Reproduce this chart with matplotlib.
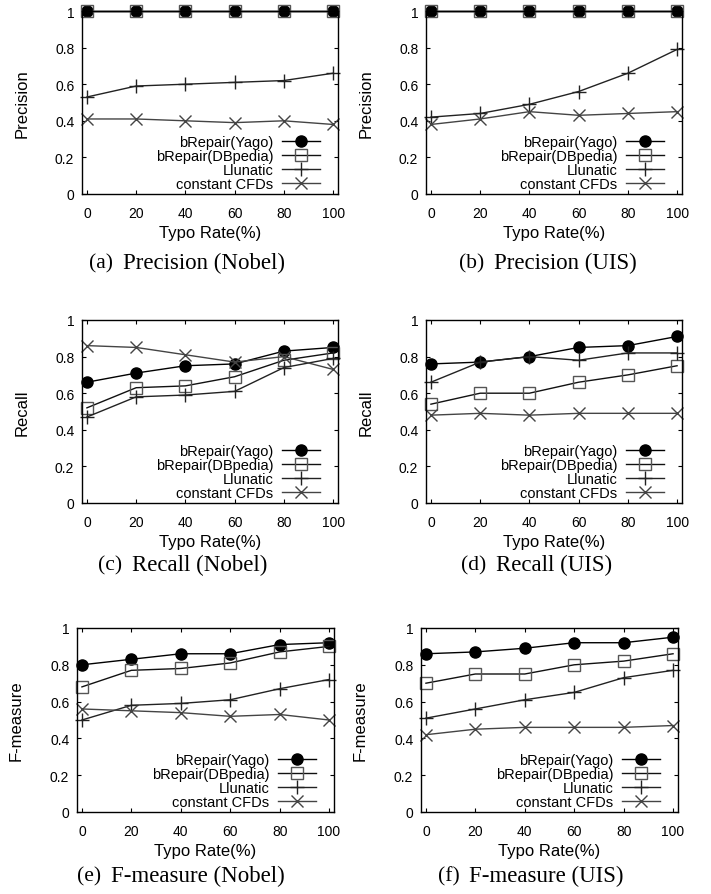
#!/usr/bin/env python

#---- import necessary packages ----#
import matplotlib
matplotlib.use('Agg')
import matplotlib.pyplot as plt
from matplotlib import rcParams
from matplotlib.offsetbox import TextArea, HPacker, AnnotationBbox

#---- plotting parameters ----#
params = {'font.family': 'Liberation Sans',
          'font.size': 10,
          'axes.labelsize': 12,
          'xtick.labelsize': 10,
          'ytick.labelsize': 10,
          'axes.linewidth': 1.0,
          'xtick.direction': 'in',
          'ytick.direction': 'in',
          'xtick.top': True,
          'ytick.right': True,
          'xtick.major.size': 3,
          'ytick.major.size': 3,
          'xtick.major.pad': 8.5,
          'ytick.major.pad': 5.5,
          }
rcParams.update(params)

#---- data ----#
typo_rate = [0, 20, 40, 60, 80, 100]
series_names = ['bRepair(Yago)', 'bRepair(DBpedia)', 'Llunatic', 'constant CFDs']

# (a) Precision (Nobel)
prec_nobel_yago = [1, 1, 1, 1, 1, 1]
prec_nobel_dbpedia = [1, 1, 1, 1, 1, 1]
prec_nobel_llunatic = [0.53, 0.59, 0.60, 0.61, 0.62, 0.66]
prec_nobel_cfd = [0.41, 0.41, 0.40, 0.39, 0.40, 0.38]

# (b) Precision (UIS)
prec_uis_yago = [1, 1, 1, 1, 1, 1]
prec_uis_dbpedia = [1, 1, 1, 1, 1, 1]
prec_uis_llunatic = [0.42, 0.44, 0.49, 0.56, 0.66, 0.79]
prec_uis_cfd = [0.38, 0.41, 0.45, 0.43, 0.44, 0.45]

# (c) Recall (Nobel)
rec_nobel_yago = [0.66, 0.71, 0.75, 0.76, 0.83, 0.85]
rec_nobel_dbpedia = [0.52, 0.63, 0.64, 0.69, 0.78, 0.82]
rec_nobel_llunatic = [0.47, 0.58, 0.59, 0.61, 0.74, 0.79]
rec_nobel_cfd = [0.86, 0.85, 0.81, 0.77, 0.80, 0.73]

# (d) Recall (UIS)
rec_uis_yago = [0.76, 0.77, 0.80, 0.85, 0.86, 0.91]
rec_uis_dbpedia = [0.54, 0.60, 0.60, 0.66, 0.70, 0.75]
rec_uis_llunatic = [0.66, 0.77, 0.80, 0.78, 0.82, 0.82]
rec_uis_cfd = [0.48, 0.49, 0.48, 0.49, 0.49, 0.49]

# (e) F-measure (Nobel)
f_nobel_yago = [0.80, 0.83, 0.86, 0.86, 0.91, 0.92]
f_nobel_dbpedia = [0.68, 0.77, 0.78, 0.81, 0.87, 0.90]
f_nobel_llunatic = [0.50, 0.58, 0.59, 0.61, 0.67, 0.72]
f_nobel_cfd = [0.56, 0.55, 0.54, 0.52, 0.53, 0.50]

# (f) F-measure (UIS)
f_uis_yago = [0.86, 0.87, 0.89, 0.92, 0.92, 0.95]
f_uis_dbpedia = [0.70, 0.75, 0.75, 0.80, 0.82, 0.86]
f_uis_llunatic = [0.51, 0.56, 0.61, 0.65, 0.73, 0.77]
f_uis_cfd = [0.42, 0.45, 0.46, 0.46, 0.46, 0.47]

#---- line styles per series (gnuplot look) ----#
styles = [dict(color='black', marker='o', mfc='black', mec='black', ms=8),
          dict(color='#111111', marker='s', mfc='none', mec='#555555', ms=8, mew=1.0),
          dict(color='#222222', marker='+', ms=10, mew=1.0),
          dict(color='#444444', marker='x', ms=9, mew=1.0)]

#---- panel layout (pixel boxes: left, top, right, bottom) ----#
W, H = 711, 895
panels = [
    ('Precision', '(a)', 'Precision (Nobel)', (82, 12, 338, 195), (187, 263),
     [prec_nobel_yago, prec_nobel_dbpedia, prec_nobel_llunatic, prec_nobel_cfd]),
    ('Precision', '(b)', 'Precision (UIS)', (426, 12, 682, 195), (548, 263),
     [prec_uis_yago, prec_uis_dbpedia, prec_uis_llunatic, prec_uis_cfd]),
    ('Recall', '(c)', 'Recall (Nobel)', (82, 321, 338, 504), (183, 565),
     [rec_nobel_yago, rec_nobel_dbpedia, rec_nobel_llunatic, rec_nobel_cfd]),
    ('Recall', '(d)', 'Recall (UIS)', (426, 321, 682, 504), (537, 565),
     [rec_uis_yago, rec_uis_dbpedia, rec_uis_llunatic, rec_uis_cfd]),
    ('F-measure', '(e)', 'F-measure (Nobel)', (77, 629, 334, 813), (181, 876),
     [f_nobel_yago, f_nobel_dbpedia, f_nobel_llunatic, f_nobel_cfd]),
    ('F-measure', '(f)', 'F-measure (UIS)', (421, 629, 678, 813), (531, 876),
     [f_uis_yago, f_uis_dbpedia, f_uis_llunatic, f_uis_cfd]),
]

fig = plt.figure(figsize=(W / 100.0, H / 100.0), dpi=100)

for ylab, tag, caption, box, cap_xy, data in panels:
    l, t, r, b = box
    ax = fig.add_axes([l / W, 1 - b / H, (r - l) / W, (b - t) / H])
    for name, vals, st in zip(series_names, data, styles):
        ax.plot(typo_rate, vals, lw=1.0, label=name, clip_on=False, **st)

    ax.set_xlim(-2, 102)
    ax.set_ylim(0, 1)
    ax.set_xticks(typo_rate)
    ax.set_yticks([0, 0.2, 0.4, 0.6, 0.8, 1])
    ax.set_yticklabels(['0', '0.2', '0.4', '0.6', '0.8', '1'])

    ax.set_xlabel('Typo Rate(%)', va='center')
    ax.xaxis.set_label_coords(0.5, -0.208)
    ax.set_ylabel(ylab, va='center')
    ax.yaxis.set_label_coords(-0.235, 0.5)

    leg = ax.legend(loc='lower right', bbox_to_anchor=(0.93, 0.016), markerfirst=False,
                    frameon=False, fontsize=10.5, handlelength=2.6, handletextpad=0.6,
                    labelspacing=0.0, borderpad=0, borderaxespad=0, numpoints=1)

    #---- sub-figure caption: tag + title, in serif ----#
    tag_box = TextArea(tag, textprops=dict(fontsize=15.5, family='Liberation Serif'))
    cap_box = TextArea(caption, textprops=dict(fontsize=16.5, family='Liberation Serif'))
    pack = HPacker(children=[tag_box, cap_box], sep=7, align='baseline', pad=0)
    ab = AnnotationBbox(pack, (cap_xy[0] / W, 1 - cap_xy[1] / H), xycoords='figure fraction',
                        box_alignment=(0.5, 0.5), frameon=False, pad=0)
    fig.add_artist(ab)

plt.savefig('out.png', dpi=100)
